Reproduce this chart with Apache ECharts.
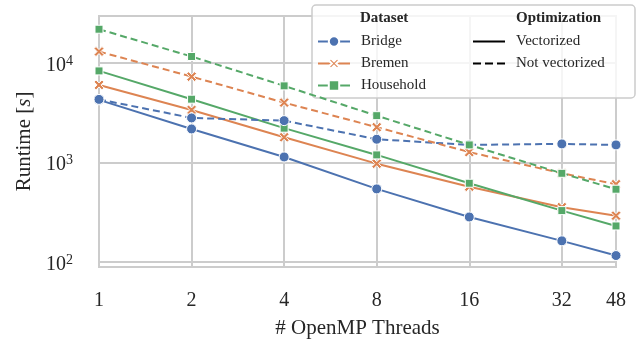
<!DOCTYPE html>
<html>
<head>
<meta charset="utf-8">
<script src="https://cdn.jsdelivr.net/npm/echarts@6/dist/echarts.min.js"></script>
<style>
    html, body { margin: 0; padding: 0; background: #fff; }
    #main { width: 643px; height: 344px; }
</style>
</head>
<body>
<div id="main"></div>
<script>
// 数据
var threads = [1, 2, 4, 8, 16, 32, 48];
var bridgeVec = [4250, 2170, 1135, 542, 283, 163, 116];
var bridgeNoVec = [4300, 2800, 2630, 1710, 1500, 1535, 1500];
var bremenVec = [6010, 3370, 1790, 972, 571, 355, 292];
var bremenNoVec = [13000, 7280, 3990, 2260, 1270, 778, 604];
var householdVec = [8310, 4320, 2210, 1190, 618, 328, 230];
var householdNoVec = [21800, 11600, 5880, 2950, 1500, 778, 538];
var xTicks = [1, 2, 4, 8, 16, 32, 48];
var yTicks = [100, 1000, 10000];

var blue = '#4C72B0', orange = '#DD8452', green = '#55A868';
var font = 'Liberation Serif';
var xMarker = 'path://M2 0L5 3L8 0L10 2L7 5L10 8L8 10L5 7L2 10L0 8L3 5L0 2Z';

function pairs(values) {
    return threads.map(function(t, i) {
        return [t, values[i]];
    });
}

function makeSeries(name, color, values, dashed, symbol, size) {
    return {
        name: name,
        type: 'line',
        data: pairs(values),
        symbol: symbol,
        symbolSize: size,
        showAllSymbol: true,
        clip: false,
        lineStyle: {
            color: color,
            width: 2,
            type: dashed ? [7, 4] : 'solid'
        },
        itemStyle: {
            color: color,
            borderColor: '#fff',
            borderWidth: 1
        },
        emphasis: { disabled: true }
    };
}

var myChart = echarts.init(document.getElementById('main'));
var option = {
    backgroundColor: '#fff',
    animation: false,
    textStyle: { fontFamily: font, color: '#262626' },
    grid: {
        left: 99,
        right: 27,
        top: 16,
        bottom: 77,
        show: true,
        borderColor: '#cccccc',
        borderWidth: 2
    },
    xAxis: {
        type: 'log',
        logBase: 2,
        min: 1,
        max: 48,
        name: '# OpenMP Threads',
        nameLocation: 'middle',
        nameGap: 51,
        nameTextStyle: { fontFamily: font, fontSize: 21, color: '#262626' },
        axisLine: { show: false },
        axisTick: { show: false, customValues: xTicks },
        axisLabel: {
            customValues: xTicks,
            margin: 24,
            fontFamily: font,
            fontSize: 20,
            color: '#262626',
            formatter: function(v) { return String(Math.round(v)); }
        },
        splitLine: { show: true, lineStyle: { color: '#cccccc', width: 2 } }
    },
    yAxis: {
        type: 'log',
        logBase: 10,
        min: 89,
        max: 29600,
        name: 'Runtime [{i|s}]',
        nameLocation: 'middle',
        nameGap: 63,
        nameTextStyle: {
            fontFamily: font,
            fontSize: 21,
            color: '#262626',
            rich: { i: { fontFamily: font, fontSize: 21, fontStyle: 'italic', color: '#262626' } }
        },
        axisLine: { show: false },
        axisTick: { show: false, customValues: yTicks },
        axisLabel: {
            customValues: yTicks,
            margin: 26,
            padding: [5, 0, 0, 0],
            fontFamily: font,
            fontSize: 20,
            color: '#262626',
            formatter: function(v) {
                return '10{sup|' + Math.round(Math.log(v) / Math.LN10) + '}';
            },
            rich: {
                sup: { fontFamily: font, fontSize: 14, color: '#262626', verticalAlign: 'top', padding: [0, 0, 9, 0] }
            }
        },
        splitLine: { show: true, lineStyle: { color: '#cccccc', width: 2 } }
    },
    graphic: [{
        type: 'rect',
        z: 3,
        shape: { x: 312, y: 5, width: 323, height: 93, r: 4 },
        style: { fill: 'rgba(255,255,255,0.8)', stroke: '#cccccc', lineWidth: 1.5 }
    }, {
        type: 'text',
        z: 5,
        left: 360,
        top: 11,
        style: { text: 'Dataset', font: 'bold 15px "Liberation Serif"', fill: '#262626' }
    }, {
        type: 'text',
        z: 5,
        left: 516,
        top: 11,
        style: { text: 'Optimization', font: 'bold 15px "Liberation Serif"', fill: '#262626' }
    }],
    legend: [{
        left: 317,
        top: 34,
        padding: 0,
        orient: 'vertical',
        itemWidth: 32,
        itemHeight: 13,
        itemGap: 7,
        textStyle: { fontFamily: font, fontSize: 15, color: '#262626', padding: [0, 0, 0, 6] },
        data: ['Bridge', 'Bremen', 'Household']
    }, {
        left: 472,
        top: 34,
        padding: 0,
        orient: 'vertical',
        itemWidth: 32,
        itemHeight: 13,
        itemGap: 7,
        textStyle: { fontFamily: font, fontSize: 15, color: '#262626', padding: [0, 0, 0, 6] },
        data: ['Vectorized', 'Not vectorized']
    }],
    series: [
        makeSeries('Bridge', blue, bridgeVec, false, 'circle', 10),
        makeSeries('Bremen', orange, bremenVec, false, xMarker, 10),
        makeSeries('Household', green, householdVec, false, 'rect', 8),
        makeSeries('Bridge (not vectorized)', blue, bridgeNoVec, true, 'circle', 10),
        makeSeries('Bremen (not vectorized)', orange, bremenNoVec, true, xMarker, 10),
        makeSeries('Household (not vectorized)', green, householdNoVec, true, 'rect', 8),
        // 只用于图例, 符号透明
        {
            name: 'Vectorized',
            type: 'line',
            data: [],
            symbol: 'none',
            lineStyle: { color: '#000', width: 2.5 },
            itemStyle: { color: 'rgba(0,0,0,0)' }
        },
        {
            name: 'Not vectorized',
            type: 'line',
            data: [],
            symbol: 'none',
            lineStyle: { color: '#000', width: 2.5, type: [8, 4] },
            itemStyle: { color: 'rgba(0,0,0,0)' }
        }
    ]
};

myChart.setOption(option);
</script>
</body>
</html>
